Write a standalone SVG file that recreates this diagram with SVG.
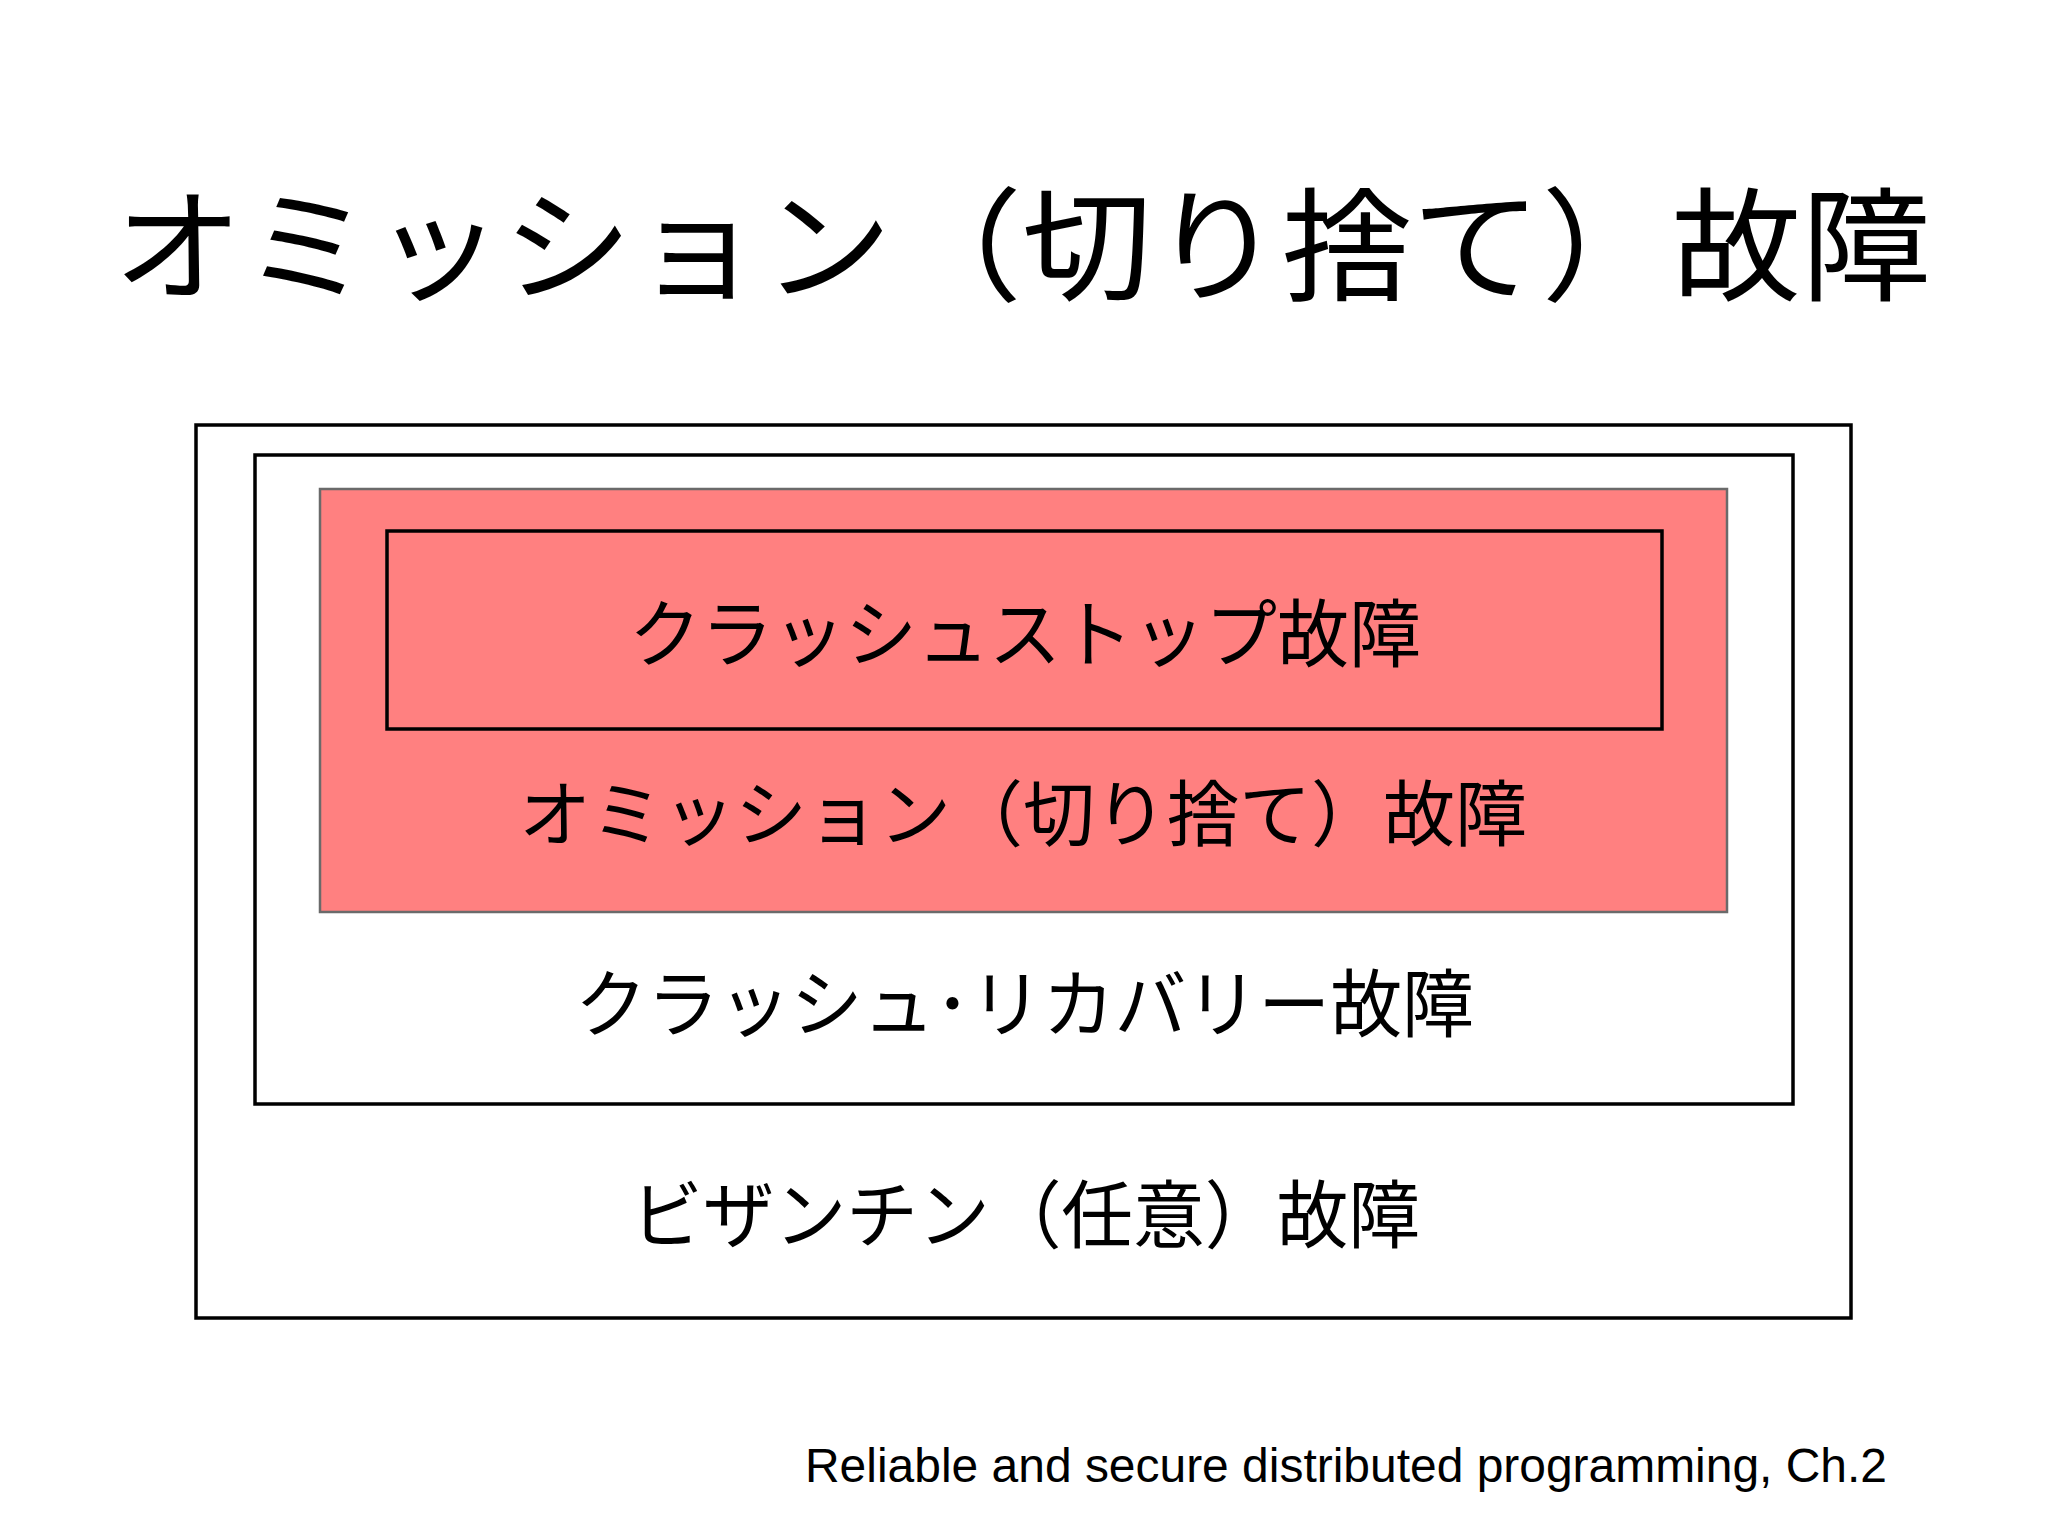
<svg xmlns="http://www.w3.org/2000/svg" width="2048" height="1536" viewBox="0 0 2048 1536">
<style>
.box{fill:none;stroke:#000;stroke-width:3.5}
.red{fill:#ff8080;stroke:#6a6a6a;stroke-width:2.5}
.jp{font-family:"Noto Sans CJK JP","Noto Sans CJK SC",sans-serif;fill:#000}
.en{font-family:"Liberation Sans",Arial,sans-serif;fill:#000}
</style>
<rect width="2048" height="1536" fill="#fff"/>
<text class="jp" x="113" y="291" font-size="123" textLength="1818" lengthAdjust="spacingAndGlyphs">オミッション（切り捨て）故障</text>
<g id="byzantine">
<rect class="box" x="196" y="425" width="1655" height="893"/>
<text class="jp" x="631" y="1242" font-size="74" textLength="789" lengthAdjust="spacingAndGlyphs">ビザンチン（任意）故障</text>
</g>
<g id="crash-recovery">
<rect class="box" x="255" y="455" width="1538" height="649"/>
<text class="jp" x="575" y="1031" font-size="74" textLength="899" lengthAdjust="spacingAndGlyphs">クラッシュ･リカバリー故障</text>
</g>
<g id="omission">
<rect class="red" x="320" y="489" width="1407" height="423"/>
<text class="jp" x="519" y="840" font-size="72" textLength="1008" lengthAdjust="spacingAndGlyphs">オミッション（切り捨て）故障</text>
</g>
<g id="crash-stop">
<rect class="box" x="387" y="531" width="1275" height="198"/>
<text class="jp" x="629" y="661" font-size="74" textLength="792" lengthAdjust="spacingAndGlyphs">クラッシュストップ故障</text>
</g>
<g id="connectors"></g>
<text class="en" x="805" y="1482" font-size="48" textLength="1082" lengthAdjust="spacingAndGlyphs">Reliable and secure distributed programming, Ch.2</text>
</svg>
